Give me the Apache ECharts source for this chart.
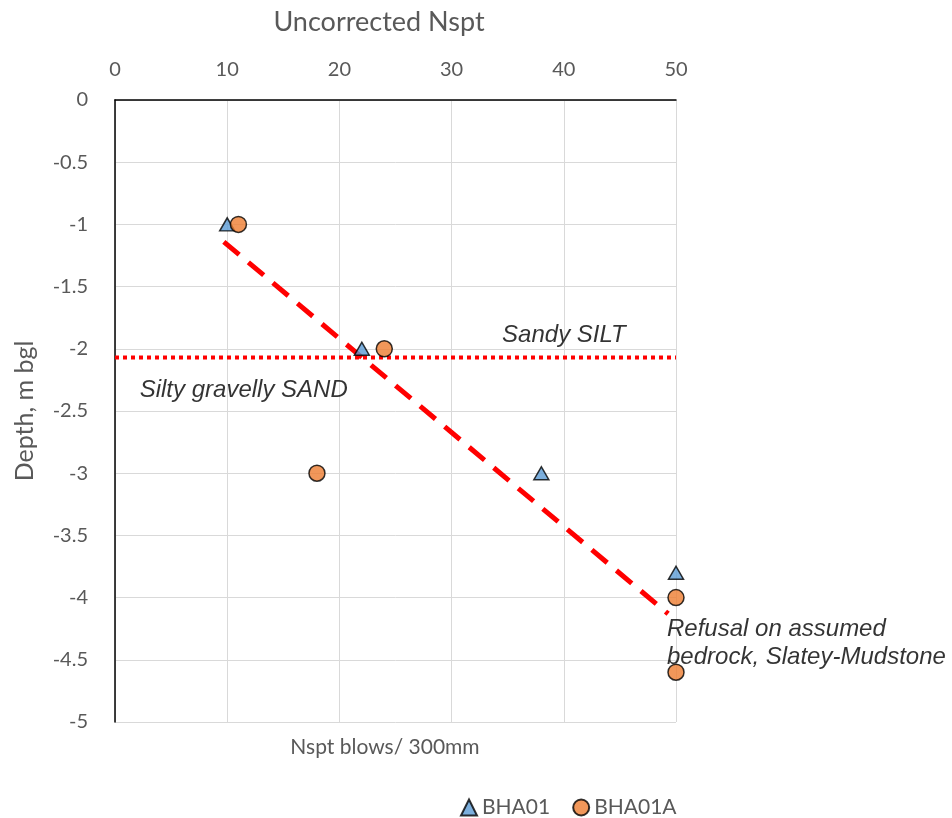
<!DOCTYPE html>
<html><head><meta charset="utf-8">
<script src="https://cdn.jsdelivr.net/npm/echarts@6/dist/echarts.min.js"></script>
<style>html,body{margin:0;padding:0;background:#fff}#c{width:952px;height:818px}</style>
</head><body><div id="c"></div>
<script>
const xTicks = [0, 10, 20, 30, 40, 50];
const yTicks = [0, -0.5, -1, -1.5, -2, -2.5, -3, -3.5, -4, -4.5, -5];
const bha01 = [[10, -1], [22, -2], [38, -3], [50, -3.8]];
const bha01a = [[11, -1], [24, -2], [18, -3], [50, -4], [50, -4.6]];
const trendLine = [[9.7, -1.14], [49.3, -4.13]];
const boundaryLine = [[0, -2.07], [50, -2.07]];
const annotations = [
  {pos: [34.5, -1.89], text: 'Sandy SILT'},
  {pos: [2.2, -2.33], text: 'Silty gravelly SAND'},
  {pos: [49.2, -4.365], text: 'Refusal on assumed\nbedrock, Slatey-Mudstone'}
];

const chart = echarts.init(document.getElementById('c'));
const font = 'Lato, "Open Sans", sans-serif';
chart.setOption({
  animation: false,
  backgroundColor: '#fff',
  grid: {left: 115, top: 100, right: 276, bottom: 96, containLabel: false},
  title: [
    {text: 'Uncorrected Nspt', left: 374, top: 4, textAlign: 'center',
     textStyle: {fontFamily: font, fontSize: 27, fontWeight: 'normal', color: '#595959'}},
    {text: 'Nspt blows/ 300mm', left: 380, top: 732, textAlign: 'center',
     textStyle: {fontFamily: font, fontSize: 21, fontWeight: 'normal', color: '#595959'}}
  ],
  xAxis: {
    type: 'value', position: 'top', min: 0, max: 50, interval: 10,
    axisLine: {show: true, onZero: false, lineStyle: {color: '#000', width: 1.5}},
    axisTick: {show: false},
    axisLabel: {fontFamily: font, fontSize: 20, color: '#595959', margin: 20},
    splitLine: {show: true, lineStyle: {color: '#d9d9d9', width: 1}}
  },
  yAxis: {
    type: 'value', min: -5, max: 0, interval: 0.5,
    name: 'Depth, m bgl', nameLocation: 'middle', nameGap: 78, nameRotate: 90,
    nameTextStyle: {fontFamily: font, fontSize: 25, color: '#595959', padding: [0, 0, 0, 0]},
    axisLine: {show: true, onZero: false, lineStyle: {color: '#000', width: 1.5}},
    axisTick: {show: false},
    axisLabel: {fontFamily: font, fontSize: 20, color: '#595959', margin: 27},
    splitLine: {show: true, lineStyle: {color: '#d9d9d9', width: 1}}
  },
  legend: {
    left: 455, top: 792, itemGap: 22, itemWidth: 16, itemHeight: 16,
    textStyle: {fontFamily: font, fontSize: 21, color: '#595959'},
    data: ['BHA01', 'BHA01A']
  },
  series: [
    {type: 'line', data: boundaryLine, symbol: 'none', silent: true, z: 1,
     lineStyle: {color: '#ff0000', width: 4, type: [4, 4], cap: 'butt'}},
    {type: 'line', data: trendLine, symbol: 'none', silent: true, z: 1,
     lineStyle: {color: '#ff0000', width: 5, type: [20, 12], cap: 'butt'}},
    {name: 'BHA01', type: 'scatter', data: bha01, symbol: 'triangle', symbolSize: [15, 13], z: 3,
     itemStyle: {color: '#5B9BD5', borderColor: '#000', borderWidth: 1.5}},
    {name: 'BHA01A', type: 'scatter', data: bha01a, symbol: 'circle', symbolSize: 16, z: 3,
     itemStyle: {color: '#ED7D31', borderColor: '#000', borderWidth: 1.5}},
    {type: 'scatter', silent: true, symbolSize: 0, z: 4,
     data: annotations.map(a => ({value: a.pos, label: {formatter: a.text}})),
     label: {show: true, position: 'right', distance: 0, fontFamily: 'Liberation Sans, Arial, sans-serif',
       fontSize: 24, fontStyle: 'italic', color: '#000', lineHeight: 28}}
  ]
});
</script></body></html>
